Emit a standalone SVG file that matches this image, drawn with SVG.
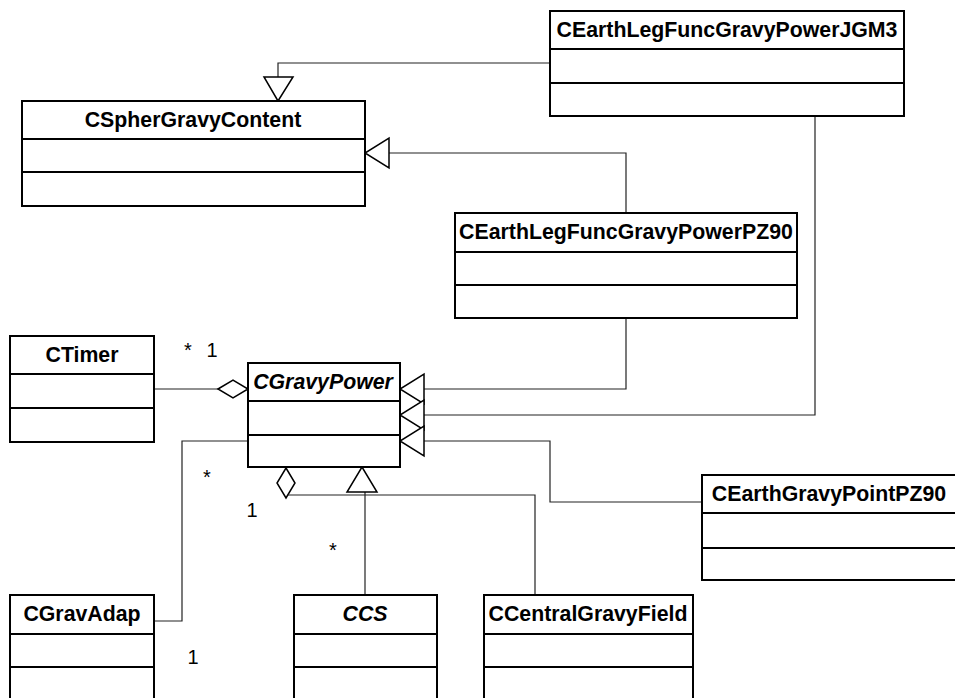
<svg xmlns="http://www.w3.org/2000/svg" width="955" height="698" viewBox="0 0 955 698">
<style>
.box{fill:#fff;stroke:#000;stroke-width:2}
.div{stroke:#000;stroke-width:2}
.t{font-family:"Liberation Sans",Arial,sans-serif;font-weight:bold;font-size:21.3px;text-anchor:middle;fill:#000}
.i{font-style:italic}
.c{fill:none;stroke:#222;stroke-width:1.2}
.h{fill:#fff;stroke:#000;stroke-width:1.5}
.m{font-family:"Liberation Sans",Arial,sans-serif;font-size:20px;text-anchor:middle;fill:#000}
</style>
<rect width="955" height="698" fill="#fff"/>
<g id="connectors">
<polyline class="c" points="550,63 278,63 278,77"/>
<polygon class="h" points="264,77 293,77 278,101"/>
<polyline class="c" points="626,213 626,153 389,153"/>
<polygon class="h" points="389,138 389,168 365,153"/>
<polyline class="c" points="626,318 626,389 424,389"/>
<polyline class="c" points="815,116 815,415 424,415"/>
<polyline class="c" points="702,502 550,502 550,441 424,441"/>
<polygon class="h" points="424,374 424,404 400,389"/>
<polygon class="h" points="424,400 424,430 400,415"/>
<polygon class="h" points="424,426 424,456 400,441"/>
<line class="c" x1="154" y1="389" x2="218" y2="389"/>
<polygon class="h" points="218,389 233,380 248,389 233,398"/>
<polyline class="c" points="248,441 182,441 182,621 154,621"/>
<polygon class="h" points="286,468 295,483 286,498 277,483"/>
<polyline class="c" points="288,495 535,495 535,595"/>
<line class="c" x1="365" y1="492" x2="365" y2="595"/>
<polygon class="h" points="347,492 377,492 362,467"/>
<text class="m" x="188" y="357">*</text>
<text class="m" x="212" y="357">1</text>
<text class="m" x="207" y="484">*</text>
<text class="m" x="252" y="517">1</text>
<text class="m" x="333" y="557">*</text>
<text class="m" x="193" y="664">1</text>
</g>
<g id="CSpherGravyContent">
<rect class="box" x="22" y="101" width="343" height="105"/>
<line class="div" x1="22" y1="139" x2="365" y2="139"/>
<line class="div" x1="22" y1="172" x2="365" y2="172"/>
<text class="t" x="193" y="127">CSpherGravyContent</text>
</g>
<g id="CEarthLegFuncGravyPowerJGM3">
<rect class="box" x="550" y="11" width="354" height="105"/>
<line class="div" x1="550" y1="49" x2="904" y2="49"/>
<line class="div" x1="550" y1="83" x2="904" y2="83"/>
<text class="t" x="727" y="37">CEarthLegFuncGravyPowerJGM3</text>
</g>
<g id="CEarthLegFuncGravyPowerPZ90">
<rect class="box" x="455" y="213" width="342" height="105"/>
<line class="div" x1="455" y1="252" x2="797" y2="252"/>
<line class="div" x1="455" y1="285" x2="797" y2="285"/>
<text class="t" x="626" y="239">CEarthLegFuncGravyPowerPZ90</text>
</g>
<g id="CTimer">
<rect class="box" x="10" y="336" width="144" height="106"/>
<line class="div" x1="10" y1="374" x2="154" y2="374"/>
<line class="div" x1="10" y1="408" x2="154" y2="408"/>
<text class="t" x="82" y="362">CTimer</text>
</g>
<g id="CGravyPower">
<rect class="box" x="248" y="363" width="152" height="104"/>
<line class="div" x1="248" y1="401" x2="400" y2="401"/>
<line class="div" x1="248" y1="435" x2="400" y2="435"/>
<text class="t i" x="323" y="389">CGravyPower</text>
</g>
<g id="CEarthGravyPointPZ90">
<rect class="box" x="702" y="475" width="260" height="105"/>
<line class="div" x1="702" y1="513" x2="962" y2="513"/>
<line class="div" x1="702" y1="548" x2="962" y2="548"/>
<text class="t" x="829" y="501">CEarthGravyPointPZ90</text>
</g>
<g id="CGravAdap">
<rect class="box" x="10" y="595" width="144" height="110"/>
<line class="div" x1="10" y1="634" x2="154" y2="634"/>
<line class="div" x1="10" y1="667" x2="154" y2="667"/>
<text class="t" x="82" y="621">CGravAdap</text>
</g>
<g id="CCS">
<rect class="box" x="294" y="595" width="143" height="110"/>
<line class="div" x1="294" y1="634" x2="437" y2="634"/>
<line class="div" x1="294" y1="667" x2="437" y2="667"/>
<text class="t i" x="365" y="621">CCS</text>
</g>
<g id="CCentralGravyField">
<rect class="box" x="484" y="595" width="209" height="110"/>
<line class="div" x1="484" y1="634" x2="693" y2="634"/>
<line class="div" x1="484" y1="667" x2="693" y2="667"/>
<text class="t" x="588" y="621">CCentralGravyField</text>
</g>
</svg>
